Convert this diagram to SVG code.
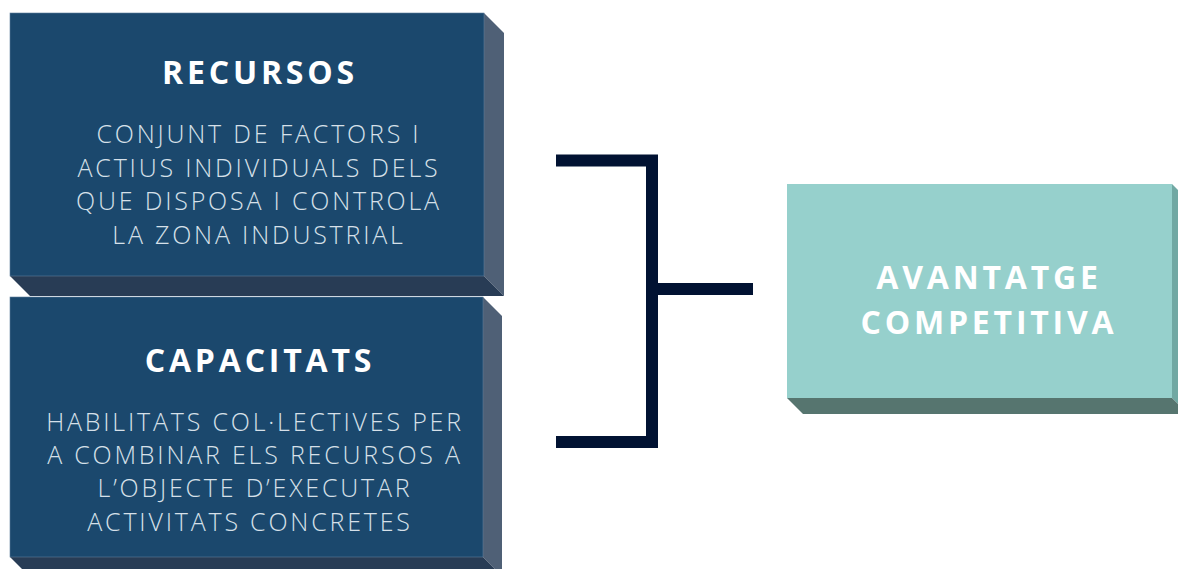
<svg xmlns="http://www.w3.org/2000/svg" width="1178" height="569" viewBox="0 0 1178 569">
  <style>
    .front { fill: #1B486D; stroke: #5E7E9C; stroke-width: 0.6; }
    .side { fill: #4F6076; }
    .bottom { fill: #283C55; }
    .tfront { fill: #96D0CC; }
    .tside { fill: #71A8A3; }
    .tbottom { fill: #56756F; }
    .title { font-family: "Open Sans", "Liberation Sans", sans-serif; font-weight: 700; font-size: 32px; letter-spacing: 3.8px; fill: #FFFFFF; text-anchor: middle; }
    .body { font-family: "Open Sans", "Liberation Sans", sans-serif; font-weight: 300; font-size: 25px; letter-spacing: 2.8px; fill: #D6E0E9; text-anchor: middle; }
    .conn { fill: none; stroke: #011232; stroke-width: 12; stroke-linejoin: miter; stroke-linecap: butt; }
  </style>
  <rect width="1178" height="569" fill="#FFFFFF"/>
  <g id="recursos">
    <polygon class="side" points="484,13 504,33 504,296 484,276"/>
    <polygon class="bottom" points="10,276 484,276 504,296 30,296"/>
    <rect class="front" x="10" y="13" width="474" height="263"/>
    <text class="title" x="260" y="84">RECURSOS</text>
    <text class="body" x="259" y="143">CONJUNT DE FACTORS I</text>
    <text class="body" x="259" y="177">ACTIUS INDIVIDUALS DELS</text>
    <text class="body" x="259" y="210">QUE DISPOSA I CONTROLA</text>
    <text class="body" x="259" y="244">LA ZONA INDUSTRIAL</text>
  </g>
  <g id="capacitats">
    <polygon class="side" points="483,297 502,316 502,576 483,557"/>
    <polygon class="bottom" points="10,557 483,557 502,576 29,576"/>
    <rect class="front" x="10" y="297" width="473" height="260"/>
    <text class="title" x="260" y="372">CAPACITATS</text>
    <text class="body" x="255" y="431">HABILITATS COL·LECTIVES PER</text>
    <text class="body" x="255" y="464">A COMBINAR ELS RECURSOS A</text>
    <text class="body" x="255" y="497">L’OBJECTE D’EXECUTAR</text>
    <text class="body" x="250" y="531">ACTIVITATS CONCRETES</text>
  </g>
  <g id="avantatge">
    <polygon class="tside" points="1172,184 1188,200 1188,414 1172,398"/>
    <polygon class="tbottom" points="787,398 1172,398 1188,414 803,414"/>
    <rect class="tfront" x="787" y="184" width="385" height="214"/>
    <text class="title" x="989" y="289">AVANTATGE</text>
    <text class="title" x="989" y="334">COMPETITIVA</text>
  </g>
  <g id="connectors">
    <path class="conn" d="M556,160.5 H652 V442 H556"/>
    <path class="conn" d="M652,289 H753"/>
  </g>
</svg>
